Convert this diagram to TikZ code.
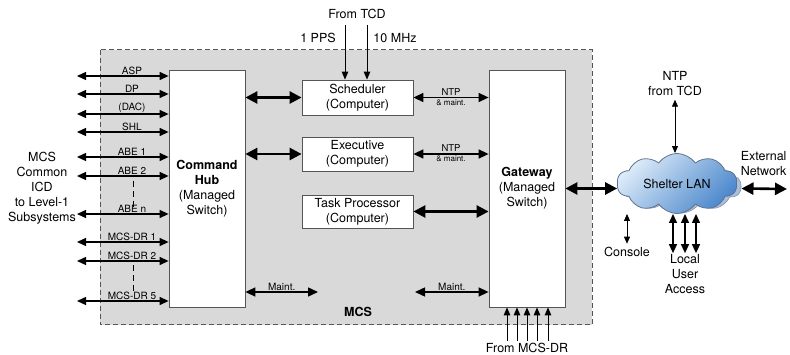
\documentclass[tikz,border=0pt]{standalone}
\usepackage{fontspec}
\setmainfont{TeX Gyre Heros}
\usetikzlibrary{arrows.meta,shapes.symbols}
\definecolor{mcsgray}{HTML}{D9D9D9}
\definecolor{edgegray}{HTML}{555555}
\definecolor{lanlight}{HTML}{DDEBF9}
\definecolor{landark}{HTML}{4C88CC}
\definecolor{lanedge}{HTML}{5F7390}
\definecolor{lanshadow}{HTML}{A9C0DA}
\begin{document}
\begin{tikzpicture}[x=1pt,y=-1pt,font=\fontsize{12.5}{15}\selectfont,
    box/.style={draw=edgegray,fill=white,line width=0.8pt,align=center,inner sep=0pt},
    bigarrow/.style={line width=2.6pt,{Triangle[length=12pt,width=12pt]}-{Triangle[length=12pt,width=12pt]}},
    midarrow/.style={line width=1.5pt,{Triangle[length=10pt,width=9pt]}-{Triangle[length=10pt,width=9pt]}},
    smallarrow/.style={line width=1.3pt,{Triangle[length=9pt,width=8pt]}-{Triangle[length=9pt,width=8pt]}},
    twoway/.style={line width=0.8pt,{Triangle[length=7pt,width=6pt]}-{Triangle[length=7pt,width=6pt]}},
    inarrow/.style={line width=1pt,-{Triangle[length=8pt,width=6.5pt]}},
    lbl/.style={font=\fontsize{10}{11}\selectfont,inner sep=1pt},
    lanshape/.style={cloud,cloud puffs=10,cloud puff arc=110,aspect=2.3,minimum width=120pt,minimum height=53pt,line width=0.8pt}]
    \useasboundingbox (0,0) rectangle (790,355);
    \draw[edgegray,fill=mcsgray,line width=1pt,dash pattern=on 5pt off 3pt] (100,50) rectangle (592,325);
    \node[box,minimum width=76pt,minimum height=237pt] (hub) at (207,188.5) {\textbf{Command}\\\textbf{Hub}\\(Managed\\Switch)};
    \node[box,minimum width=76pt,minimum height=237pt] (gate) at (527,188.5) {\textbf{Gateway}\\(Managed\\Switch)};
    \node[box,minimum width=111pt,minimum height=35pt] (sched) at (357.5,97.5) {Scheduler\\(Computer)};
    \node[box,minimum width=111pt,minimum height=34pt] (exec) at (357.5,154) {Executive\\(Computer)};
    \node[box,minimum width=111pt,minimum height=33pt] (task) at (357.5,211.5) {Task Processor\\(Computer)};
    \node[font=\fontsize{12.5}{15}\selectfont\bfseries] (mcs) at (358,312) {MCS};
    \node[align=center] (icd) at (42,188) {MCS\\Common\\ICD\\to Level-1\\Subsystems};
    \foreach \y/\name [count=\i] in {76/ASP,94/DP,114/{(DAC)},132/SHL,157/ABE 1,176/ABE 2,214/ABE n,242/MCS-DR 1,261/MCS-DR 2,301/MCS-DR 5}{
        \coordinate (sub\i) at (77,\y);
        \draw[smallarrow] (sub\i) -- (sub\i -| hub.west) node[lbl,pos=0.6,above] {\name};
    }
    \draw[line width=1pt,dash pattern=on 6pt off 4pt] (133,181) -- (133,207);
    \draw[line width=1pt,dash pattern=on 6pt off 4pt] (133,265) -- (133,291);
    \draw[bigarrow] (hub.east |- sched.west) -- (sched.west);
    \draw[bigarrow] (hub.east |- exec.west) -- (exec.west);
    \draw[bigarrow] (task.east) -- (task.east -| gate.west);
    \draw[midarrow] (sched.east) -- (sched.east -| gate.west)
        node[midway,above,inner sep=1.5pt,font=\fontsize{9.5}{10}\selectfont] {NTP}
        node[midway,below,inner sep=1.5pt,font=\fontsize{8}{9}\selectfont] {\& maint.};
    \draw[midarrow] (exec.east) -- (exec.east -| gate.west)
        node[midway,above,inner sep=1.5pt,font=\fontsize{9.5}{10}\selectfont] {NTP}
        node[midway,below,inner sep=1.5pt,font=\fontsize{8}{9}\selectfont] {\& maint.};
    \coordinate (mleft) at (318,292);
    \coordinate (mright) at (415,292);
    \draw[midarrow] (hub.east |- mleft) -- (mleft) node[lbl,midway,above] {Maint.};
    \draw[midarrow] (mright) -- (mright -| gate.west) node[lbl,midway,above] {Maint.};
    \node (tcd) at (357,14) {From TCD};
    \node (ppslab) at (318,38) {1 PPS};
    \node (mhzlab) at (395,38) {10 MHz};
    \coordinate (pps) at (345,25);
    \coordinate (mhz) at (367,25);
    \draw[inarrow] (pps) -- (pps |- sched.north);
    \draw[inarrow] (mhz) -- (mhz |- sched.north);
    \node (drlab) at (527,348) {From MCS-DR};
    \foreach \x in {507,517,527,537,548}
        \draw[inarrow] (\x,341) -- (\x,0 |- gate.south);
    \node[lanshape,draw=lanedge!70,fill=lanshadow] (lanback) at (681,186.5) {};
    \node[lanshape,draw=lanedge,top color=lanlight,bottom color=landark,shading angle=45] (lan) at (677,183.5) {Shelter LAN};
    \coordinate (lanin) at ([yshift=-5pt]lan.west);
    \coordinate (ext) at (787,189);
    \draw[bigarrow] (gate.east |- lanin) -- (lanin);
    \draw[bigarrow] (lanin -| lanback.east) -- (ext);
    \node[align=left,anchor=east] (extlab) at (790,164) {External\\Network};
    \node[align=center] (ntp) at (675,84) {NTP\\from TCD};
    \draw[twoway] (ntp.south) -- (ntp.south |- lan.north);
    \node (con) at (627,252) {Console};
    \draw[twoway] (con.north) -- (con.north |- lan.south);
    \node[align=center,inner sep=1pt] (local) at (685,274) {Local\\User\\Access};
    \foreach \x in {673,685,696}
        \draw[smallarrow] (\x,0 |- lan.south) -- (\x,0 |- local.north);
\end{tikzpicture}
\end{document}
